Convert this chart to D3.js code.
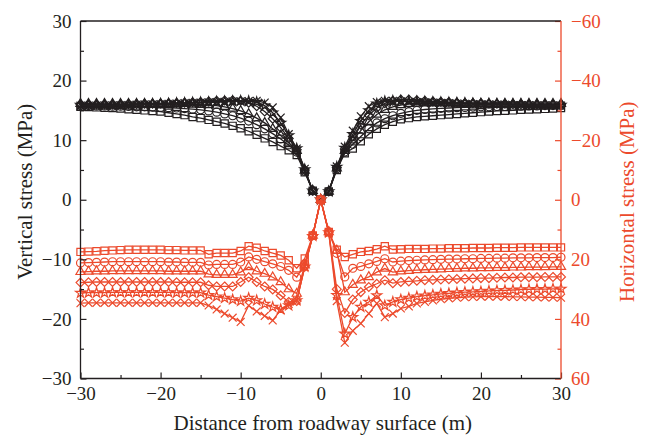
<!DOCTYPE html>
<html><head><meta charset="utf-8">
<script src="https://cdn.jsdelivr.net/npm/d3@7"></script>
<style>body{margin:0;background:#fff}</style></head><body>
<svg id="c" width="645" height="438"></svg>
<script>
// ---------- DATA ----------
const xs = d3.range(-30, 31, 1); // distance (m), 61 points

// Vertical stress (MPa), left axis
const vSquare = [15.6,15.55,15.5,15.45,15.4,15.3,15.2,15.1,15.0,14.9,14.8,14.6,14.4,14.2,13.9,13.7,13.4,13.1,12.8,12.4,12.0,11.5,10.9,10.3,9.7,9.0,8.3,7.5,4.6,1.5,
  0,
  1.4,5.0,7.8,8.6,9.8,11.0,11.9,12.6,13.1,13.5,13.7,13.9,14.0,14.1,14.2,14.3,14.4,14.5,14.6,14.7,14.8,14.9,14.95,15.0,15.1,15.15,15.2,15.25,15.3,15.4];
const vCircle = [15.8,15.8,15.75,15.75,15.7,15.7,15.65,15.6,15.6,15.55,15.5,15.45,15.4,15.3,15.2,15.1,14.9,14.7,14.4,14.1,13.7,13.2,12.6,11.9,11.1,10.2,9.2,8.0,4.8,1.5,
  0,
  1.4,5.2,8.0,9.3,10.6,11.9,12.9,13.6,14.1,14.5,14.8,15.0,15.15,15.25,15.35,15.4,15.45,15.5,15.55,15.6,15.6,15.65,15.65,15.7,15.7,15.75,15.75,15.8,15.8,15.8];
const vTriangle = [16.1,16.1,16.1,16.1,16.1,16.1,16.1,16.1,16.1,16.1,16.1,16.1,16.1,16.1,16.0,15.95,15.9,15.8,15.6,15.3,14.9,14.4,13.7,12.9,11.9,10.8,9.6,8.2,4.9,1.5,
  0,
  1.4,5.3,8.2,10.0,11.6,13.1,14.3,15.1,15.6,15.9,16.1,16.15,16.2,16.2,16.2,16.2,16.2,16.15,16.15,16.1,16.1,16.1,16.1,16.1,16.1,16.1,16.1,16.1,16.1,16.1];
const vDiamond = [16.0,16.0,16.0,16.0,16.0,16.0,16.05,16.05,16.1,16.1,16.15,16.2,16.25,16.3,16.35,16.4,16.5,16.6,16.65,16.7,16.6,16.3,15.7,14.8,13.6,12.1,10.3,8.4,5.0,1.5,
  0,
  1.4,5.4,8.5,10.6,12.6,14.2,15.4,16.2,16.6,16.8,16.8,16.7,16.6,16.5,16.45,16.4,16.3,16.25,16.2,16.2,16.15,16.1,16.1,16.05,16.05,16.0,16.0,16.0,16.0,16.0];
const vStar = [15.9,15.9,15.9,15.9,15.9,15.95,15.95,16.0,16.0,16.05,16.1,16.15,16.2,16.25,16.3,16.35,16.4,16.45,16.5,16.55,16.6,16.55,16.4,15.8,14.6,12.9,10.8,8.6,5.1,1.5,
  0,
  1.4,5.5,8.7,11.0,13.2,15.0,16.1,16.5,16.6,16.6,16.55,16.5,16.45,16.4,16.35,16.3,16.25,16.2,16.15,16.1,16.1,16.05,16.0,16.0,16.0,15.95,15.95,15.9,15.9,15.9];
const vCross = [15.8,15.8,15.8,15.85,15.85,15.9,15.9,15.95,16.0,16.0,16.05,16.1,16.15,16.2,16.25,16.3,16.35,16.4,16.45,16.5,16.5,16.55,16.6,16.3,15.5,13.8,11.0,8.6,5.2,1.4,
  0,
  1.3,5.6,8.9,11.6,14.0,15.7,16.4,16.6,16.6,16.5,16.45,16.4,16.35,16.3,16.25,16.2,16.15,16.1,16.05,16.0,16.0,15.95,15.95,15.9,15.9,15.9,15.85,15.85,15.85,15.8];

// Horizontal stress (MPa), right axis (inverted)
const hSquare = [17.5,17.4,17.3,17.1,17.0,16.9,16.8,16.8,16.8,16.8,16.8,16.9,16.9,17.0,17.0,17.0,
  18.3,17.9,17.9,17.9,17.2,15.6,16.1,17.2,17.9,18.7,20.3,23.0,19.7,12.0,
  0,
  10.8,16.8,19.2,18.3,17.5,17.2,16.6,15.6,16.7,16.6,16.5,16.5,16.5,16.4,16.4,16.3,16.3,16.3,16.2,16.2,16.2,16.1,16.1,16.1,16.0,16.0,16.0,16.0,16.0,16.0];
const hCircle = [21.2,21.1,21.0,20.9,20.8,20.8,20.8,20.8,20.8,20.8,20.8,20.9,20.9,21.0,21.0,21.0,
  21.9,21.7,21.7,21.7,20.9,19.2,20.0,20.8,21.5,22.4,23.7,26.0,21.5,12.0,
  0,
  10.8,18.0,25.9,23.0,22.4,21.5,20.7,19.8,20.9,20.6,20.4,20.3,20.2,20.1,20.0,19.9,19.9,19.8,19.8,19.7,19.7,19.6,19.6,19.5,19.5,19.5,19.4,19.4,19.4,19.3];
const hTriangle = [24.2,24.1,24.0,24.0,23.9,23.9,23.9,23.9,23.9,23.9,23.9,24.0,24.0,24.0,24.0,24.0,
  25.0,25.2,25.2,25.2,24.3,22.6,24.0,24.8,26.0,27.6,30.0,31.5,22.0,12.0,
  0,
  10.8,17.0,31.0,28.5,27.0,25.9,24.3,23.1,24.3,24.0,23.8,23.6,23.5,23.4,23.3,23.2,23.1,23.0,23.0,22.9,22.9,22.8,22.8,22.7,22.7,22.6,22.6,22.6,22.5,22.5];
const hDiamond = [27.8,27.7,27.6,27.6,27.6,27.6,27.6,27.6,27.6,27.6,27.6,27.6,27.7,27.7,27.7,27.7,
  28.7,29.1,29.1,29.1,27.6,26.0,27.6,29.1,30.1,32.1,34.3,34.0,22.5,12.0,
  0,
  10.8,30.0,38.0,33.5,31.0,29.3,28.2,27.0,28.0,27.6,27.4,27.2,27.0,26.9,26.8,26.7,26.6,26.5,26.4,26.3,26.3,26.2,26.1,26.1,26.0,26.0,26.0,25.9,25.9,25.9];
const hStar = [31.3,31.2,31.2,31.2,31.1,31.1,31.1,31.1,31.1,31.1,31.1,31.1,31.2,31.2,31.2,31.2,
  32.0,32.5,33.0,33.5,34.0,33.0,33.8,35.0,36.0,36.8,35.5,33.8,22.5,12.2,
  0,
  11.0,32.0,45.0,39.4,36.0,34.3,32.1,35.5,34.3,33.5,33.0,32.5,32.2,31.9,31.6,31.4,31.2,31.0,30.9,30.8,30.6,30.5,30.4,30.3,30.2,30.1,30.0,30.0,29.9,29.9];
const hCross = [34.7,34.6,34.6,34.6,34.6,34.6,34.6,34.6,34.6,34.6,34.6,34.6,34.6,34.6,34.6,34.6,
  35.5,36.8,38.2,39.6,41.0,35.5,37.5,39.0,40.5,37.0,35.0,33.8,22.5,12.2,
  0,
  11.2,34.0,48.0,44.0,41.5,38.2,34.8,39.4,38.2,36.5,35.8,34.8,34.3,33.8,33.4,33.1,32.9,32.7,32.6,32.5,32.5,32.5,32.5,32.6,32.6,32.7,32.7,32.8,32.8,32.9];

const xTicks = [-30,-20,-10,0,10,20,30];
const leftTicks = [-30,-20,-10,0,10,20,30];
const rightTicks = [-60,-40,-20,0,20,40,60];
const xTitle = "Distance from roadway surface (m)";
const leftTitle = "Vertical stress (MPa)";
const rightTitle = "Horizontal stress (MPa)";

// ---------- CHART ----------
const BLACK = "#231f20", RED = "#ec4a2c";
const FONT = "'Liberation Serif','Times New Roman',serif";
const svg = d3.select("#c");
const L = 80.5, R = 561, T = 21, B = 378.5;
const x = d3.scaleLinear([-30, 30], [L, R]);
const yL = d3.scaleLinear([-30, 30], [B, T]);
const yR = d3.scaleLinear([-60, 60], [T, B]);

const shapes = [
  {type: d3.symbolSquare, size: 52},
  {type: d3.symbolCircle, size: 50},
  {type: d3.symbolTriangle, size: 36},
  {type: d3.symbolDiamond2, size: 50},
  {type: d3.symbolStar, size: 30},
  {type: d3.symbolTimes, size: 42}
];

function drawSeries(vals, yScale, color, shape) {
  const pts = xs.map((d, i) => [d, vals[i]]);
  const g = svg.append("g");
  g.append("path").datum(pts)
    .attr("d", d3.line().x(d => x(d[0])).y(d => yScale(d[1])))
    .attr("fill", "none").attr("stroke", color).attr("stroke-width", 1.3);
  const sym = d3.symbol().type(shape.type).size(shape.size);
  g.selectAll("path.m").data(pts).join("path").attr("class", "m")
    .attr("transform", d => `translate(${x(d[0])},${yScale(d[1])})`)
    .attr("d", sym).attr("fill", "none").attr("stroke", color).attr("stroke-width", 1.2);
}

const vSeries = [vSquare, vCircle, vTriangle, vDiamond, vStar, vCross];
const hSeries = [hSquare, hCircle, hTriangle, hDiamond, hStar, hCross];
vSeries.forEach((s, i) => drawSeries(s, yL, BLACK, shapes[i]));
hSeries.forEach((s, i) => drawSeries(s, yR, RED, shapes[i]));

function styleAxis(g, color) {
  g.selectAll("text").attr("font-family", FONT).attr("font-size", 19).attr("fill", color);
  g.selectAll("line").attr("stroke", color).attr("stroke-width", 1.2);
  g.select(".domain").remove();
}
function minorVals(major, step) {
  const out = [];
  for (let i = 0; i < major.length - 1; i++) out.push(major[i] + step);
  return out;
}

// bottom axis
const gx = svg.append("g").attr("transform", `translate(0,${B})`)
  .call(d3.axisBottom(x).tickValues(xTicks).tickSize(-6).tickPadding(8).tickSizeOuter(0));
styleAxis(gx, BLACK);
const gxm = svg.append("g").attr("transform", `translate(0,${B})`)
  .call(d3.axisBottom(x).tickValues(minorVals(xTicks, 5)).tickSize(-3.5).tickFormat(""));
styleAxis(gxm, BLACK);

// left axis
const gl = svg.append("g").attr("transform", `translate(${L},0)`)
  .call(d3.axisLeft(yL).tickValues(leftTicks).tickSize(-6).tickPadding(9).tickSizeOuter(0));
styleAxis(gl, BLACK);
const glm = svg.append("g").attr("transform", `translate(${L},0)`)
  .call(d3.axisLeft(yL).tickValues(minorVals(leftTicks, 5)).tickSize(-3.5).tickFormat(""));
styleAxis(glm, BLACK);

// right axis
const gr = svg.append("g").attr("transform", `translate(${R},0)`)
  .call(d3.axisRight(yR).tickValues(rightTicks).tickSize(-6).tickPadding(10).tickSizeOuter(0));
styleAxis(gr, RED);
const grm = svg.append("g").attr("transform", `translate(${R},0)`)
  .call(d3.axisRight(yR).tickValues(minorVals(rightTicks, 10)).tickSize(-3.5).tickFormat(""));
styleAxis(grm, RED);

// frame
svg.append("line").attr("x1", L).attr("x2", R).attr("y1", T).attr("y2", T).attr("stroke", BLACK).attr("stroke-width", 1.3);
svg.append("line").attr("x1", L).attr("x2", R).attr("y1", B).attr("y2", B).attr("stroke", BLACK).attr("stroke-width", 1.3);
svg.append("line").attr("x1", L).attr("x2", L).attr("y1", T).attr("y2", B).attr("stroke", BLACK).attr("stroke-width", 1.3);
svg.append("line").attr("x1", R).attr("x2", R).attr("y1", T).attr("y2", B).attr("stroke", RED).attr("stroke-width", 1.3);

// titles
svg.append("text").attr("x", (L + R) / 2 + 2).attr("y", 430).attr("text-anchor", "middle")
  .attr("font-family", FONT).attr("font-size", 21).attr("fill", BLACK).text(xTitle);
svg.append("text").attr("transform", `translate(32,${(T + B) / 2 - 8}) rotate(-90)`).attr("text-anchor", "middle")
  .attr("font-family", FONT).attr("font-size", 21).attr("fill", BLACK).text(leftTitle);
svg.append("text").attr("transform", `translate(634,${(T + B) / 2 + 2}) rotate(-90)`).attr("text-anchor", "middle")
  .attr("font-family", FONT).attr("font-size", 21).attr("fill", RED).text(rightTitle);
</script></body></html>
